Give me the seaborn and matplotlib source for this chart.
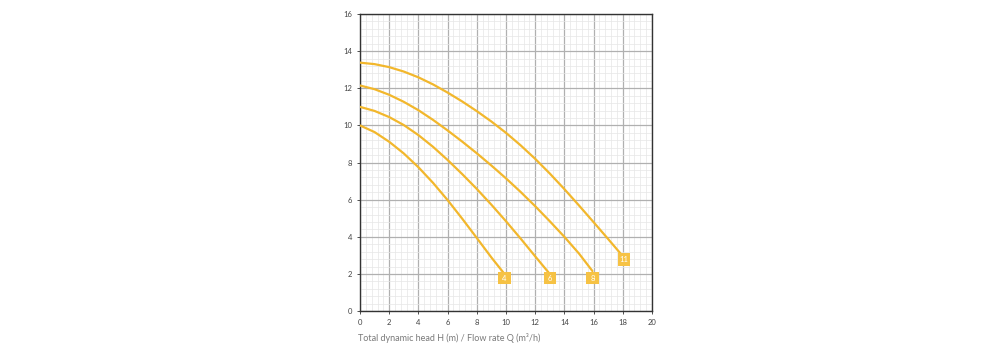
import numpy as np
import pandas as pd
import matplotlib
matplotlib.use("Agg")
import matplotlib.pyplot as plt
from matplotlib.ticker import MultipleLocator
import seaborn as sns

# ---- data ----
curve_labels = ["4", "6", "8", "11"]
q_4 = [0, 1, 2, 3, 4, 5, 6, 7, 8, 9, 9.88]
h_4 = [10.0, 9.64, 9.12, 8.49, 7.75, 6.91, 5.98, 4.98, 3.94, 2.89, 2.02]
q_6 = [0, 1, 2, 3, 4, 5, 6, 7, 8, 9, 10, 11, 12, 12.95]
h_6 = [11.0, 10.78, 10.45, 10.02, 9.48, 8.85, 8.14, 7.38, 6.58, 5.73, 4.84, 3.91, 2.95, 2.05]
q_8 = [0, 1, 2, 3, 4, 5, 6, 7, 8, 9, 10, 11, 12, 13, 14, 15, 15.92]
h_8 = [12.15, 11.95, 11.65, 11.27, 10.82, 10.30, 9.73, 9.13, 8.50, 7.84, 7.15, 6.42, 5.65, 4.84, 4.00, 3.10, 2.16]
q_11 = [0, 1, 2, 3, 4, 5, 6, 7, 8, 9, 10, 11, 12, 13, 14, 15, 16, 17, 18]
h_11 = [13.38, 13.30, 13.14, 12.90, 12.59, 12.21, 11.77, 11.29, 10.77, 10.21, 9.60, 8.93, 8.20, 7.41, 6.57, 5.69, 4.79, 3.88, 2.96]

marker_q = [9.89, 13.0, 15.92, 18.08]
marker_h = [1.77, 1.77, 1.77, 2.79]

x_ticks = list(range(0, 21, 2))
y_ticks = list(range(0, 17, 2))
x_label = "Total dynamic head H (m) / Flow rate Q (m³/h)"

# ---- build tidy table ----
frames = []
for lab, q, h in zip(curve_labels, [q_4, q_6, q_8, q_11], [h_4, h_6, h_8, h_11]):
    frames.append(pd.DataFrame({"Q": q, "H": h, "curve": lab}))
df = pd.concat(frames, ignore_index=True)
mk = pd.DataFrame({"Q": marker_q, "H": marker_h, "curve": curve_labels})

line_color = "#F2B72C"
marker_color = "#F6C244"

sns.set_style("white")
plt.rcParams["font.family"] = ["Lato", "DejaVu Sans"]

fig = plt.figure(figsize=(10, 3.5), dpi=100)
ax = fig.add_axes([0.36, 0.111, 0.292, 0.849])

sns.lineplot(data=df, x="Q", y="H", hue="curve", palette=[line_color] * 4,
             linewidth=1.6, legend=False, ax=ax, sort=False, zorder=3)
sns.scatterplot(data=mk, x="Q", y="H", marker="s", s=80, color=marker_color,
                edgecolor="none", legend=False, ax=ax, zorder=4)
for q, h, lab in zip(marker_q, marker_h, curve_labels):
    ax.text(q, h, lab, color="white", fontsize=5.5, ha="center", va="center", zorder=5)

ax.set_xlim(0, 20)
ax.set_ylim(0, 16)
ax.set_xticks(x_ticks)
ax.set_yticks(y_ticks)
ax.xaxis.set_minor_locator(MultipleLocator(0.4))
ax.yaxis.set_minor_locator(MultipleLocator(0.4))
ax.grid(which="major", color="#b0b0b0", linewidth=0.9, zorder=1)
ax.grid(which="minor", color="#e6e6e6", linewidth=0.5, zorder=0)
ax.set_axisbelow(True)
ax.tick_params(axis="both", which="major", labelsize=5.5, labelcolor="#444444",
               length=2.5, width=0.6, color="#333333", pad=3, direction="out",
               bottom=True, left=True)
ax.tick_params(which="minor", length=0)
for s in ax.spines.values():
    s.set_color("#333333")
    s.set_linewidth(1.0)
ax.set_xlabel("")
ax.set_ylabel("")

fig.text(0.358, 0.034, x_label, fontsize=6.5, color="#7a7a7a", ha="left", va="center")

fig.savefig("out.png", dpi=100, facecolor="white")
